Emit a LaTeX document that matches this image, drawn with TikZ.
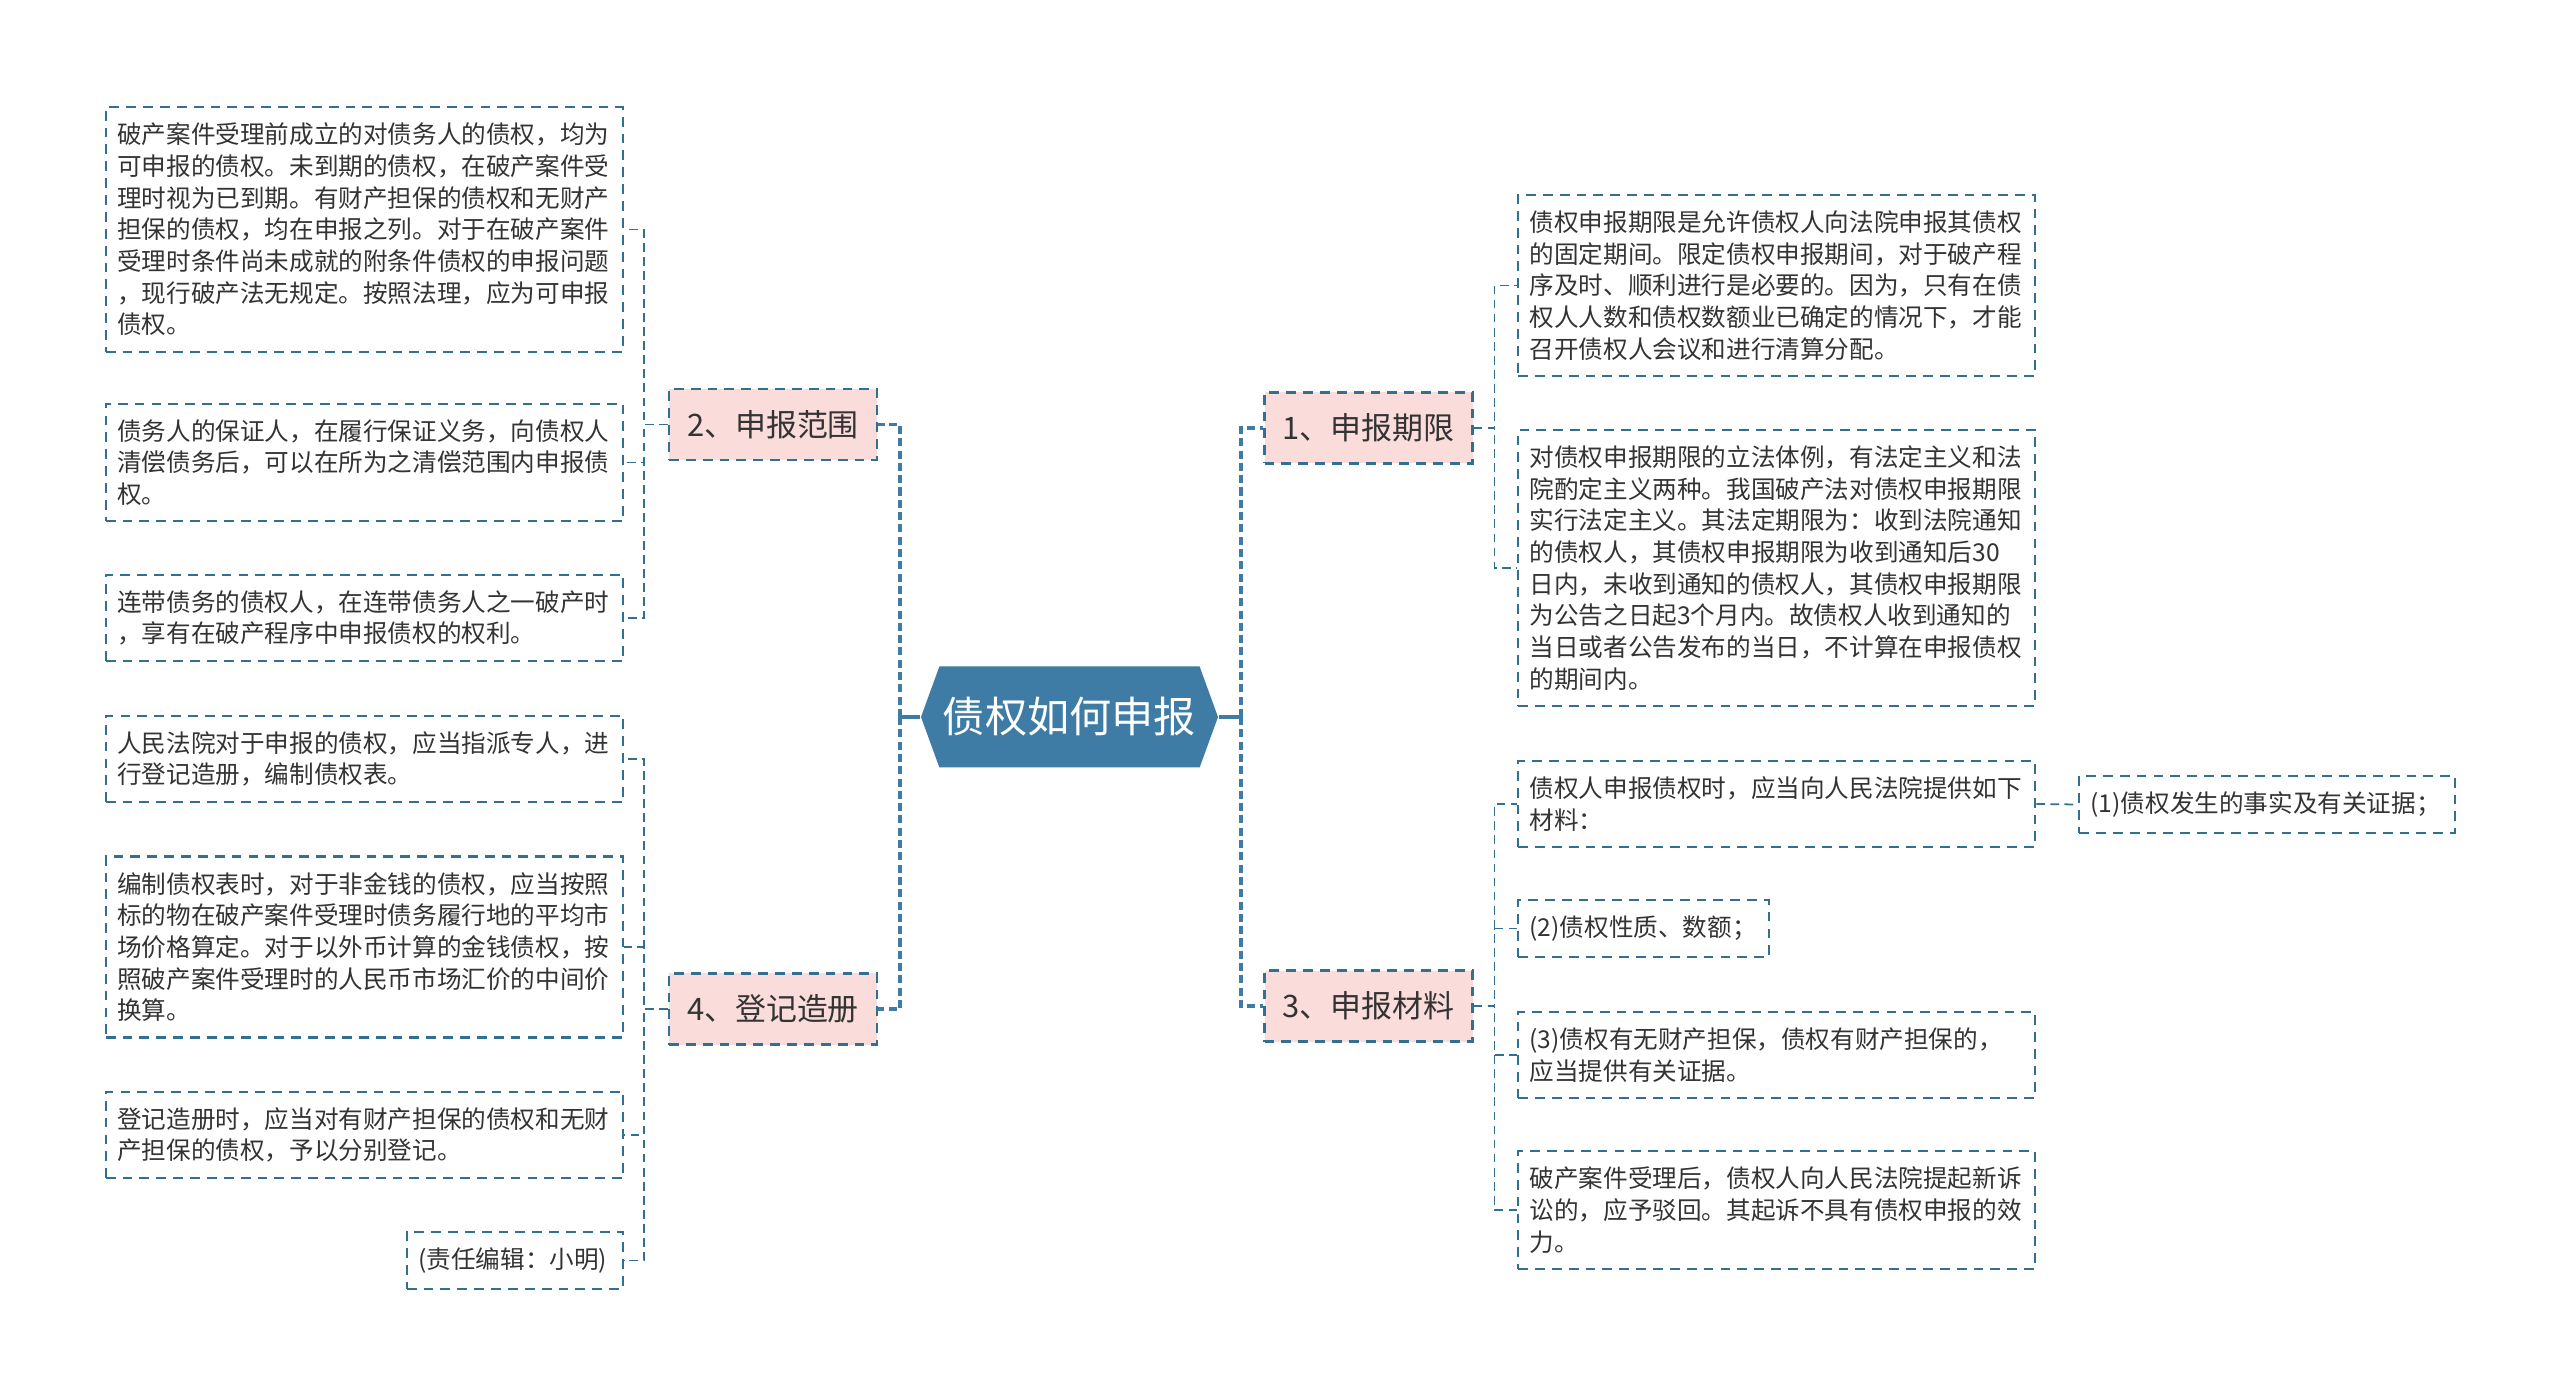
\documentclass[tikz,border=0pt]{standalone}
\usepackage{fontspec}
\setmainfont{Noto Sans CJK SC}
\usetikzlibrary{shapes.symbols}
\definecolor{rootblue}{HTML}{3F7CA5}
\definecolor{dashblue}{HTML}{336E93}
\definecolor{topicpink}{HTML}{FADCDA}
\definecolor{txt}{HTML}{333333}
\tikzset{
  rootnode/.style={signal, signal to=west and east, signal pointer angle=140,
    fill=rootblue, text=white, font=\fontsize{12pt}{14pt}\selectfont,
    minimum width=2.97cm, minimum height=1.01cm, inner sep=0pt},
  topic/.style={draw=dashblue, line width=0.6pt, dash pattern=on 2.8pt off 2pt,
    fill=topicpink, text=txt, font=\fontsize{8.8pt}{10pt}\selectfont,
    minimum width=2.08cm, minimum height=0.71cm},
  leaf/.style={draw=dashblue, line width=0.6pt, dash pattern=on 2.8pt off 2pt,
    text=txt, font=\fontsize{7pt}{9pt}\selectfont, align=left,
    text width=#1, inner xsep=3.3pt, inner ysep=4.5pt},
  leaf/.default=4.94cm,
  stem/.style={draw=rootblue, line width=1pt},
  spine/.style={draw=rootblue, line width=1pt, dash pattern=on 2.3pt off 1.2pt},
  twig/.style={draw=dashblue, line width=0.5pt, dash pattern=on 2.5pt off 1.5pt},
}
\begin{document}
\begin{tikzpicture}
\useasboundingbox[fill=white] (0,0) rectangle (25.6,-13.95);
% centre
\node[rootnode] (root) at (10.695,-7.17) {债权如何申报};
\coordinate (lhub) at (9.00,-7.17);
\coordinate (rhub) at (12.41,-7.17);
% topics
\node[topic] (t2) at (7.73,-4.245) {2、申报范围};
\node[topic] (t4) at (7.73,-10.09) {4、登记造册};
\node[topic] (t1) at (13.685,-4.28) {1、申报期限};
\node[topic] (t3) at (13.685,-10.06) {3、申报材料};
% left leaves
\node[leaf, anchor=east] (l1) at (6.24,-2.295) {破产案件受理前成立的对债务人的债权，均为\\可申报的债权。未到期的债权，在破产案件受\\理时视为已到期。有财产担保的债权和无财产\\担保的债权，均在申报之列。对于在破产案件\\受理时条件尚未成就的附条件债权的申报问题\\，现行破产法无规定。按照法理，应为可申报\\债权。};
\node[leaf, anchor=east] (l2) at (6.24,-4.625) {债务人的保证人，在履行保证义务，向债权人\\清偿债务后，可以在所为之清偿范围内申报债\\权。};
\node[leaf, anchor=east] (l3) at (6.24,-6.18) {连带债务的债权人，在连带债务人之一破产时\\，享有在破产程序中申报债权的权利。};
\node[leaf, anchor=east] (l4) at (6.24,-7.59) {人民法院对于申报的债权，应当指派专人，进\\行登记造册，编制债权表。};
\node[leaf, anchor=east] (l5) at (6.24,-9.47) {编制债权表时，对于非金钱的债权，应当按照\\标的物在破产案件受理时债务履行地的平均市\\场价格算定。对于以外币计算的金钱债权，按\\照破产案件受理时的人民币市场汇价的中间价\\换算。};
\node[leaf, anchor=east] (l6) at (6.24,-11.35) {登记造册时，应当对有财产担保的债权和无财\\产担保的债权，予以分别登记。};
\node[leaf=1.93cm, anchor=east] (l7) at (6.24,-12.605) {(责任编辑：小明)};
% right leaves
\node[leaf, anchor=west] (r1) at (15.17,-2.855) {债权申报期限是允许债权人向法院申报其债权\\的固定期间。限定债权申报期间，对于破产程\\序及时、顺利进行是必要的。因为，只有在债\\权人人数和债权数额业已确定的情况下，才能\\召开债权人会议和进行清算分配。};
\node[leaf, anchor=west] (r2) at (15.17,-5.68) {对债权申报期限的立法体例，有法定主义和法\\院酌定主义两种。我国破产法对债权申报期限\\实行法定主义。其法定期限为：收到法院通知\\的债权人，其债权申报期限为收到通知后30\\日内，未收到通知的债权人，其债权申报期限\\为公告之日起3个月内。故债权人收到通知的\\当日或者公告发布的当日，不计算在申报债权\\的期间内。};
\node[leaf, anchor=west] (r3) at (15.17,-8.04) {债权人申报债权时，应当向人民法院提供如下\\材料：};
\node[leaf=3.53cm, anchor=west] (c1) at (20.78,-8.045) {(1)债权发生的事实及有关证据；};
\node[leaf=2.28cm, anchor=west] (r4) at (15.17,-9.285) {(2)债权性质、数额；};
\node[leaf, anchor=west] (r5) at (15.17,-10.55) {(3)债权有无财产担保，债权有财产担保的，\\应当提供有关证据。};
\node[leaf, anchor=west] (r6) at (15.17,-12.10) {破产案件受理后，债权人向人民法院提起新诉\\讼的，应予驳回。其起诉不具有债权申报的效\\力。};
% connectors
\draw[stem] (root.west) -- (lhub);
\draw[stem] (root.east) -- (rhub);
\foreach \t in {t2,t4} \draw[spine] (lhub) |- (\t.east);
\foreach \t in {t1,t3} \draw[spine] (rhub) |- (\t.west);
\foreach \l in {l1,l2,l3} \draw[twig] (t2.west) -- ++(-0.24,0) |- (\l.east);
\foreach \l in {l4,l5,l6,l7} \draw[twig] (t4.west) -- ++(-0.24,0) |- (\l.east);
\foreach \r in {r1,r2} \draw[twig] (t1.east) -- ++(0.21,0) |- (\r.west);
\foreach \r in {r3,r4,r5,r6} \draw[twig] (t3.east) -- ++(0.21,0) |- (\r.west);
\draw[twig] (r3.east) -- (c1.west);
\end{tikzpicture}
\end{document}
